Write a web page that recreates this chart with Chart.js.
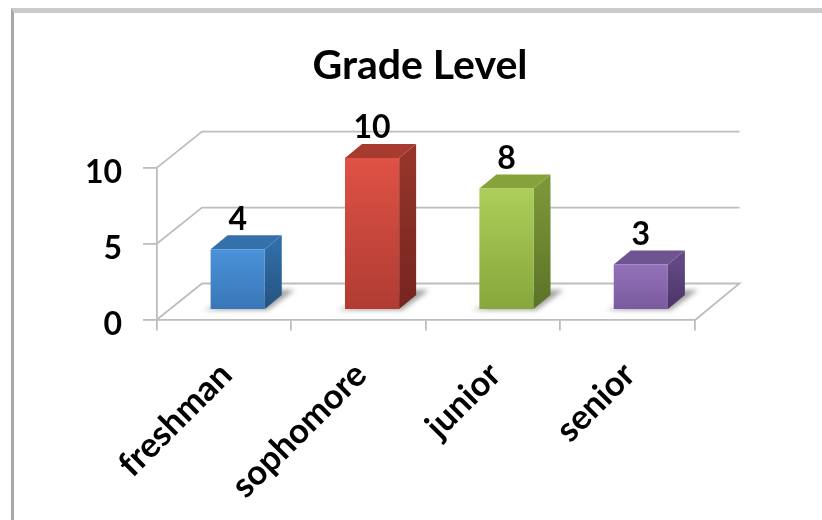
<!DOCTYPE html>
<html>
<head>
<meta charset="utf-8">
<style>
  html, body { margin: 0; padding: 0; background: #fff; }
  #wrap { position: relative; width: 822px; height: 520px; overflow: hidden; }
  #frame { position: absolute; left: 11px; top: 8px; width: 830px; height: 530px; box-sizing: border-box;
           border-top: 5px solid #cbcbcb; border-left: 3px solid #a8a8a8; }
  canvas { position: absolute; left: 0; top: 0; }
</style>
<script src="https://cdn.jsdelivr.net/npm/chart.js@4"></script>
</head>
<body>
<div id="wrap">
  <div id="frame"></div>
  <canvas id="chart" width="822" height="520"></canvas>
</div>
<script>
const chartTitle = "Grade Level";
const categories = ["freshman", "sophomore", "junior", "senior"];
const counts = [4, 10, 8, 3];
const yTicks = [0, 5, 10];

const frontTop = ["#4a92da", "#df5245", "#abcf58", "#9472ba"];
const frontBottom = ["#3877b6", "#b03b32", "#87a63c", "#7a5a9e"];
const topFaces = ["#3470aa", "#a83b30", "#86a23b", "#6e5490"];
const sideTop = ["#306ca6", "#953529", "#7b9638", "#624883"];
const sideBottom = ["#25527f", "#74251f", "#5b7227", "#4a3464"];

const FONT = 'Lato, "Open Sans", sans-serif';
const GRID = "#bdbdbd";

// Projection of the box: how far the back wall sits from the front plane on screen.
const DEPTH_DX = 45, DEPTH_DY = -36;
// Where a column's front face sits, and how thick the column looks.
const BAR_OX = 13.5, BAR_OY = -9.5;
const BAR_DX = 17, BAR_DY = -14;

function poly(ctx, pts, fill) {
  ctx.beginPath();
  pts.forEach((p, i) => i ? ctx.lineTo(p[0], p[1]) : ctx.moveTo(p[0], p[1]));
  ctx.closePath();
  ctx.fillStyle = fill;
  ctx.fill();
}

const box3d = {
  id: "box3d",
  // Back wall, side wall and floor, placed from the value scale.
  beforeDatasetsDraw(chart) {
    const { ctx, scales: { x, y } } = chart;
    const left = x.left, right = x.right;
    ctx.save();
    ctx.strokeStyle = GRID;
    ctx.lineWidth = 1.8;
    yTicks.forEach(v => {
      const py = y.getPixelForValue(v);
      ctx.beginPath();
      ctx.moveTo(left, py);
      ctx.lineTo(left + DEPTH_DX, py + DEPTH_DY);
      ctx.lineTo(right + DEPTH_DX, py + DEPTH_DY);
      if (v === 0) ctx.lineTo(right, py + 1);
      ctx.stroke();
    });
    ctx.restore();

    const meta = chart.getDatasetMeta(0);
    // Soft shadows cast across the floor.
    ctx.save();
    ctx.filter = "blur(2.5px)";
    meta.data.forEach(bar => {
      const x0 = bar.x - bar.width / 2 + BAR_OX, x1 = bar.x + bar.width / 2 + BAR_OX, b = bar.base + BAR_OY;
      poly(ctx, [[x0 - 8, b + 1], [x1 + 3, b + 1], [x1 + 30, b - 19], [x1 + 14, b - 19]], "rgba(110,110,110,0.65)");
    });
    ctx.restore();
    // Top and side faces sit behind the front face that Chart.js fills.
    meta.data.forEach((bar, i) => {
      const x0 = bar.x - bar.width / 2 + BAR_OX, x1 = bar.x + bar.width / 2 + BAR_OX;
      const t = bar.y + BAR_OY, b = bar.base + BAR_OY;
      const g = ctx.createLinearGradient(0, t, 0, b);
      g.addColorStop(0, sideTop[i]);
      g.addColorStop(1, sideBottom[i]);
      poly(ctx, [[x1, t], [x1 + BAR_DX, t + BAR_DY], [x1 + BAR_DX, b + BAR_DY], [x1, b]], g);
      poly(ctx, [[x0, t], [x0 + BAR_DX, t + BAR_DY], [x1 + BAR_DX, t + BAR_DY], [x1, t]], topFaces[i]);
    });
  },
  beforeDatasetDraw(chart) {
    chart.ctx.save();
    chart.ctx.translate(BAR_OX, BAR_OY);
  },
  afterDatasetDraw(chart) {
    chart.ctx.restore();
  },
  // Value labels float above each column's back edge.
  afterDatasetsDraw(chart) {
    const { ctx } = chart;
    const meta = chart.getDatasetMeta(0);
    ctx.save();
    ctx.fillStyle = "#000";
    ctx.font = 'bold 32px ' + FONT;
    ctx.textAlign = "center";
    ctx.textBaseline = "middle";
    meta.data.forEach((bar, i) => {
      ctx.fillText(String(counts[i]), bar.x + BAR_OX, bar.y + BAR_OY + BAR_DY - 16);
    });
    ctx.restore();
  }
};

new Chart(document.getElementById("chart"), {
  type: "bar",
  data: {
    labels: categories,
    datasets: [{
      data: counts,
      barPercentage: 1,
      categoryPercentage: 0.403,
      clip: false,
      borderWidth: 0,
      backgroundColor(c) {
        const { chart, dataIndex } = c;
        if (!chart.chartArea || dataIndex === undefined) return frontTop[dataIndex || 0];
        const y = chart.scales.y;
        const g = chart.ctx.createLinearGradient(0, y.getPixelForValue(counts[dataIndex]), 0, y.getPixelForValue(0));
        g.addColorStop(0, frontTop[dataIndex]);
        g.addColorStop(1, frontBottom[dataIndex]);
        return g;
      }
    }]
  },
  options: {
    responsive: false,
    animation: false,
    events: [],
    layout: { padding: { left: 60, right: 42, top: 0, bottom: 0 } },
    plugins: {
      legend: { display: false },
      tooltip: { enabled: false },
      title: {
        display: true,
        text: chartTitle,
        color: "#000",
        font: { family: FONT, size: 41, weight: "bold" },
        padding: { top: 41, bottom: 77.4 }
      }
    },
    scales: {
      x: {
        border: { display: true, color: GRID, width: 1.8 },
        grid: { display: true, offset: true, drawOnChartArea: false, drawTicks: true, tickLength: 11, color: GRID, lineWidth: 1.8 },
        ticks: { color: "#000", font: { family: FONT, size: 34.5, weight: "bold" }, minRotation: 45, maxRotation: 45, autoSkip: false, padding: 24, labelOffset: 2 },
        afterFit(s) { s.height = 200.5; }
      },
      y: {
        min: 0,
        max: 10,
        afterBuildTicks(s) { s.ticks = yTicks.map(v => ({ value: v })); },
        border: { display: true, color: GRID, width: 1.8 },
        grid: { display: true, drawOnChartArea: false, drawTicks: true, tickLength: 14, color: GRID, lineWidth: 1.8 },
        ticks: { color: "#000", font: { family: FONT, size: 32, weight: "bold" }, padding: 21, labelOffset: 5 },
        afterFit(s) { s.width = 97; }
      },
      // Empty margin on the right so the title centres over the drawing rather than the window.
      margin: {
        position: "right",
        grid: { display: false },
        border: { display: false },
        ticks: { display: false },
        afterFit(s) { s.width = 85.5; }
      }
    }
  },
  plugins: [box3d]
});
</script>
</body>
</html>
